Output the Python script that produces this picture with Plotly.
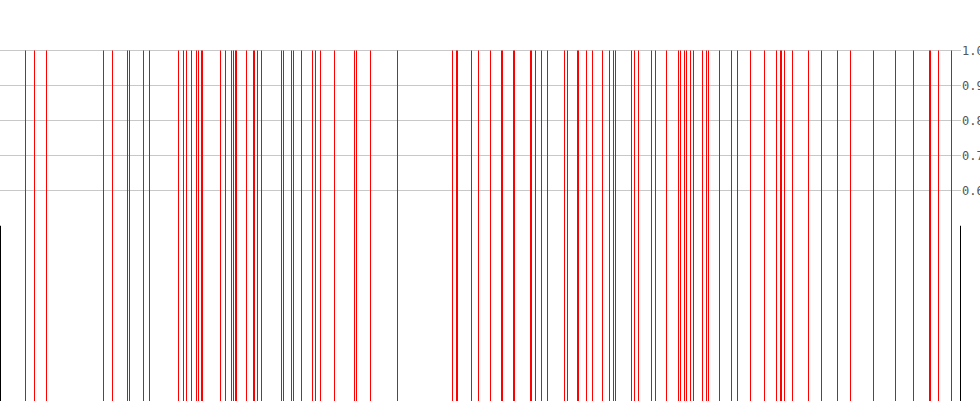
import plotly.graph_objects as go

# Positions of the red event spikes (x axis units)
event_x = [25, 34, 46, 103, 112, 127, 129, 143, 149, 178, 183, 186, 191, 196, 198,
           201, 202, 220, 225, 231, 233, 235, 236, 246, 253, 254, 257, 261, 281, 283,
           291, 293, 301, 312, 315, 320, 334, 354, 356, 370, 397, 452, 456, 457, 471,
           478, 490, 501, 502, 513, 514, 530, 531, 535, 541, 547, 564, 567, 577, 578,
           586, 592, 602, 609, 613, 615, 631, 634, 638, 651, 655, 666, 678, 680, 684,
           686, 690, 693, 702, 706, 708, 719, 731, 737, 750, 764, 776, 780, 781, 784,
           792, 808, 821, 837, 850, 873, 895, 913, 929, 930, 938, 951]
event_value = 1.0

# Black boundary markers
bound_x = [0, 960]
bound_value = 0.5

# Right-axis ticks
tick_vals = [0.6, 0.7, 0.8, 0.9, 1.0]
tick_text = ["0.6", "0.7", "0.8", "0.9", "1.0"]

def spikes(xs, top):
    X, Y = [], []
    for x in xs:
        X += [x, x, None]
        Y += [0, top, None]
    return X, Y

ex, ey = spikes(event_x, event_value)
bx, by = spikes(bound_x, bound_value)

fig = go.Figure()
fig.add_trace(go.Scatter(x=ex, y=ey, mode="lines", line=dict(color="#ff0000", width=1),
                         hoverinfo="skip", showlegend=False))
fig.add_trace(go.Scatter(x=bx, y=by, mode="lines", line=dict(color="#000000", width=1),
                         hoverinfo="skip", showlegend=False))

fig.update_layout(
    width=980, height=420,
    margin=dict(l=0, r=19, t=48, b=19, pad=0, autoexpand=False),
    paper_bgcolor="white", plot_bgcolor="white",
    showlegend=False,
    xaxis=dict(range=[-0.5, 960.5], visible=False, showgrid=False, zeroline=False,
               automargin=False),
    yaxis=dict(range=[0, 1.00713], side="right", tickvals=tick_vals, ticktext=tick_text,
               showgrid=True, gridcolor="#c8c8c8", gridwidth=1, zeroline=False,
               showline=False, ticks="", automargin=False,
               tickfont=dict(family="DejaVu Sans Mono", size=12, color="#555555")),
)

fig.write_html("out.html", config={"displayModeBar": False},
               post_script="document.body.style.margin='0';document.body.style.overflow='hidden';")
